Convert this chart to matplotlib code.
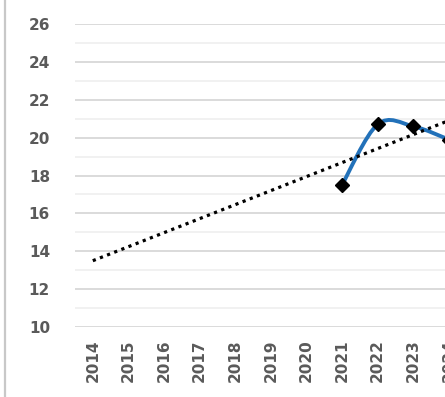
import numpy as np
import matplotlib.pyplot as plt
from matplotlib.path import Path
from matplotlib.patches import PathPatch
from matplotlib.lines import Line2D

# category axis (Excel-style, one slot per year)
years = [str(y) for y in range(2014, 2027)]
# observed series
obs_years = ['2021', '2022', '2023', '2024']
obs_vals = [17.5, 20.7, 20.6, 19.9]
# linear trend end points
trend_years = ['2014', '2024']
trend_vals = [13.5, 20.9]

y_ticks = list(range(10, 27, 2))

W, H = 445, 397
fig = plt.figure(figsize=(W / 100, H / 100), dpi=100)
fig.patch.set_facecolor('white')

slot = 35.6
left, bottom, top = 75, 70, 373
ax = fig.add_axes([left / W, bottom / H, len(years) * slot / W, (top - bottom) / H])
ax.set_xlim(-0.5, len(years) - 0.5)
ax.set_ylim(10, 26)

for s in ax.spines.values():
    s.set_visible(False)

ax.set_yticks(y_ticks)
ax.set_yticks(range(11, 26, 2), minor=True)
ax.grid(True, which='major', axis='y', color='#D4D4D4', lw=1.2)
ax.grid(True, which='minor', axis='y', color='#EFEFEF', lw=1.2)
ax.set_axisbelow(True)

txt = dict(color='#5A5A5A', fontweight='bold', fontsize=11)
ax.set_xticks(range(len(years)))
ax.set_xticklabels(years, rotation=90, **txt)
ax.set_yticklabels([str(v) for v in y_ticks], **txt)
ax.tick_params(axis='both', which='both', length=0)
ax.tick_params(axis='y', pad=18)
ax.tick_params(axis='x', pad=9)

# smoothed line (cubic Bezier, Catmull-Rom style control points)
xi = np.array([years.index(y) for y in obs_years], dtype=float)
yi = np.array(obs_vals)
pts = np.column_stack([xi, yi])
ext = np.vstack([pts[0], pts, pts[-1]])
verts = [tuple(pts[0])]
codes = [Path.MOVETO]
for i in range(len(pts) - 1):
    p0, p1, p2, p3 = ext[i], ext[i + 1], ext[i + 2], ext[i + 3]
    c1 = p1 + (p2 - p0) / 6
    c2 = p2 - (p3 - p1) / 6
    verts += [tuple(c1), tuple(c2), tuple(p2)]
    codes += [Path.CURVE4] * 3
ax.add_patch(PathPatch(Path(verts, codes), fill=False, edgecolor='#2271B9',
                       lw=2.8, zorder=3, capstyle='round', joinstyle='round'))
ax.plot(xi, yi, ls='none', marker='D', ms=7, color='black', zorder=4)

tx = [years.index(y) for y in trend_years]
ax.plot(tx, trend_vals, color='black', lw=2.3, ls=(0, (1, 1.4)),
        dash_capstyle='butt', zorder=5)

# chart area border on the left
fig.add_artist(Line2D([5 / W, 5 / W], [0, 1], color='#C8C8C8', lw=1.6,
                      transform=fig.transFigure))

fig.savefig('out.png', dpi=100)
